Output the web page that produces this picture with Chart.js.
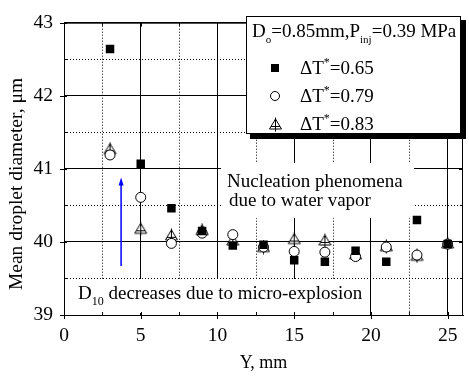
<!DOCTYPE html>
<html>
<head>
<meta charset="utf-8">
<script src="https://cdn.jsdelivr.net/npm/chart.js@4.4.0/dist/chart.umd.min.js"></script>
<style>body{margin:0;background:#fff}</style>
</head>
<body>
<canvas id="dropChart" width="469" height="376"></canvas>
<script>
// Axial positions, mm
const positions = [3, 5, 7, 9, 11, 13, 15, 17, 19, 21, 23, 25];
// Mean droplet diameter, um, one array per superheat degree
const d065 = [42.64, 41.07, 40.46, 40.15, 39.95, 39.96, 39.75, 39.73, 39.88, 39.73, 40.30, 39.97];
const d079 = [41.19, 40.61, 39.98, 40.12, 40.10, 39.93, 39.87, 39.86, 39.80, 39.93, 39.82, 39.97];
const d083 = [41.27, 40.18, 40.09, 40.16, 40.02, 39.93, 40.04, 40.02, 39.83, 39.94, 39.81, 39.98];
const seriesLabels = ["0.65", "0.79", "0.83"];

// Tick values
const xMajor = [0, 5, 10, 15, 20, 25];
const xMinor = [2.5, 7.5, 12.5, 17.5, 22.5];
const yMajor = [39, 40, 41, 42, 43];
const yMinor = [39.5, 40.5, 41.5, 42.5];

// blue arrow (data coords)
const arrowX = 3.72, arrowFrom = 39.67, arrowTo = 40.88;

const FONT = "Liberation Serif";

// triangle-with-cross marker
const triImg = document.createElement("canvas");
triImg.width = 15; triImg.height = 15;
(function () {
  const c = triImg.getContext("2d");
  c.fillStyle = "#fff";
  c.strokeStyle = "#000";
  c.lineWidth = 1;
  c.beginPath();
  c.moveTo(7.5, 2); c.lineTo(13.5, 12); c.lineTo(1.5, 12); c.closePath();
  c.fill(); c.stroke();
  c.beginPath();
  c.moveTo(7.5, 0.5); c.lineTo(7.5, 14.5);
  c.moveTo(3, 9.5); c.lineTo(12, 9.5);
  c.stroke();
})();

function pts(arr) {
  return positions.map((x, i) => ({ x: x, y: arr[i] }));
}

// text with sub/superscripts: runs = [text, size, dy]
function drawRuns(ctx, x, y, runs) {
  runs.forEach(r => {
    ctx.font = r[1] + "px '" + FONT + "'";
    ctx.fillText(r[0], x, y + r[2]);
    x += ctx.measureText(r[0]).width;
  });
}

const decor = {
  id: "decor",
  beforeDatasetsDraw(chart) {
    const ctx = chart.ctx;
    const xs = chart.scales.x, ys = chart.scales.y;
    const a = chart.chartArea;
    const px = v => Math.round(xs.getPixelForValue(v)) + 0.5;
    const py = v => Math.round(ys.getPixelForValue(v)) + 0.5;
    ctx.save();

    // minor dotted grid
    ctx.strokeStyle = "#000";
    ctx.lineWidth = 1;
    ctx.setLineDash([1, 2]);
    ctx.beginPath();
    xMinor.forEach(v => { ctx.moveTo(px(v), a.top); ctx.lineTo(px(v), a.bottom); });
    yMinor.forEach(v => { ctx.moveTo(a.left, py(v)); ctx.lineTo(a.right, py(v)); });
    ctx.stroke();
    ctx.setLineDash([]);

    // white boxes behind annotations
    ctx.fillStyle = "#fff";
    ctx.fillRect(221, 163, 193, 55);
    ctx.fillRect(a.left + 1, 279, 301, 34);

    // frame top/right
    ctx.beginPath();
    ctx.moveTo(a.left, a.top + 0.5); ctx.lineTo(a.right, a.top + 0.5);
    ctx.moveTo(a.right - 0.5, a.top); ctx.lineTo(a.right - 0.5, a.bottom);
    ctx.stroke();

    // tick marks
    ctx.beginPath();
    xMajor.forEach(v => {
      ctx.moveTo(px(v), a.bottom - 3); ctx.lineTo(px(v), a.bottom + 4);
      ctx.moveTo(px(v), a.top); ctx.lineTo(px(v), a.top + 4);
    });
    xMinor.forEach(v => {
      ctx.moveTo(px(v), a.bottom); ctx.lineTo(px(v), a.bottom - 3);
      ctx.moveTo(px(v), a.top); ctx.lineTo(px(v), a.top + 3);
    });
    yMajor.forEach(v => {
      ctx.moveTo(a.left - 4, py(v)); ctx.lineTo(a.left + 3, py(v));
      ctx.moveTo(a.right, py(v)); ctx.lineTo(a.right - 4, py(v));
    });
    yMinor.forEach(v => {
      ctx.moveTo(a.left, py(v)); ctx.lineTo(a.left + 3, py(v));
      ctx.moveTo(a.right, py(v)); ctx.lineTo(a.right - 3, py(v));
    });
    ctx.stroke();

    // legend box with shadow
    ctx.fillStyle = "#000";
    ctx.fillRect(250, 20, 216, 119);
    ctx.fillStyle = "#fff";
    ctx.fillRect(246, 16, 215, 118);
    ctx.strokeStyle = "#000";
    ctx.strokeRect(246.5, 16.5, 214, 117);

    // annotations
    ctx.fillStyle = "#000";
    ctx.textBaseline = "alphabetic";
    ctx.textAlign = "left";
    drawRuns(ctx, 252, 37, [["D", 19, 0], ["o", 11, 6], ["=0.85mm,P", 19, 0], ["inj", 11, 6], ["=0.39 MPa", 19, 0]]);
    const rowY = [68, 96, 124];
    seriesLabels.forEach((lab, i) => {
      const y = rowY[i];
      if (i === 0) {
        ctx.fillRect(271, y - 4, 8, 8);
      } else if (i === 1) {
        ctx.beginPath(); ctx.arc(275, y, 4.5, 0, Math.PI * 2); ctx.stroke();
      } else {
        ctx.drawImage(triImg, 268, y - 7);
      }
      drawRuns(ctx, 300, y + 6, [["\u0394T", 19, 0], ["*", 12, -8], ["=" + lab, 19, 0]]);
    });

    drawRuns(ctx, 227, 187, [["Nucleation phenomena", 19, 0]]);
    drawRuns(ctx, 229, 206, [["due to water vapor", 19, 0]]);
    drawRuns(ctx, 78, 299, [["D", 19, 0], ["10", 12, 6], [" decreases due to micro-explosion", 19, 0]]);

    // y axis title
    ctx.save();
    ctx.translate(17, 184);
    ctx.rotate(-Math.PI / 2);
    ctx.textAlign = "center";
    ctx.textBaseline = "middle";
    ctx.font = "19.5px '" + FONT + "'";
    ctx.fillText("Mean droplet diameter, \u03bcm", 0, 0);
    ctx.restore();

    // blue arrow
    const ax = xs.getPixelForValue(arrowX);
    const y0 = ys.getPixelForValue(arrowFrom), y1 = ys.getPixelForValue(arrowTo);
    ctx.strokeStyle = "#0000ff";
    ctx.fillStyle = "#0000ff";
    ctx.lineWidth = 1.5;
    ctx.beginPath(); ctx.moveTo(ax, y0); ctx.lineTo(ax, y1 + 6); ctx.stroke();
    ctx.beginPath(); ctx.moveTo(ax, y1); ctx.lineTo(ax - 2.5, y1 + 8); ctx.lineTo(ax + 2.5, y1 + 8); ctx.closePath(); ctx.fill();
    ctx.restore();
  }
};

const ctx = document.getElementById("dropChart").getContext("2d");
new Chart(ctx, {
  type: "scatter",
  data: {
    datasets: [
      {
        label: "\u0394T*=0.65",
        data: pts(d065),
        pointStyle: "rect",
        pointRadius: 6,
        backgroundColor: "#000",
        borderColor: "#000",
        borderWidth: 0
      },
      {
        label: "\u0394T*=0.79",
        data: pts(d079),
        pointStyle: "circle",
        pointRadius: 5,
        backgroundColor: "#fff",
        borderColor: "#000",
        borderWidth: 1
      },
      {
        label: "\u0394T*=0.83",
        data: pts(d083),
        pointStyle: triImg,
        backgroundColor: "#fff",
        borderColor: "#000"
      }
    ]
  },
  options: {
    responsive: false,
    animation: false,
    devicePixelRatio: 1,
    layout: { padding: { top: 14, right: 1, left: 0, bottom: 0 } },
    plugins: {
      legend: { display: false },
      tooltip: { enabled: false }
    },
    scales: {
      x: {
        type: "linear",
        min: 0,
        max: 26,
        afterBuildTicks: s => { s.ticks = xMajor.map(v => ({ value: v })); },
        afterFit: s => { s.height = 61; },
        grid: { color: "#000", lineWidth: 1, drawTicks: false },
        border: { color: "#000", width: 1 },
        ticks: { color: "#000", padding: 9, autoSkip: false, maxRotation: 0, font: { family: FONT, size: 19.5 } },
        title: { display: true, text: "Y, mm", color: "#000", font: { family: FONT, size: 18 }, padding: { top: 0, bottom: 2 } }
      },
      y: {
        min: 39,
        max: 43,
        afterBuildTicks: s => { s.ticks = yMajor.map(v => ({ value: v })); },
        afterFit: s => { s.width = 64; },
        grid: { color: "#000", lineWidth: 1, drawTicks: false },
        border: { color: "#000", width: 1 },
        ticks: { color: "#000", padding: 11, font: { family: FONT, size: 19.5 } },
        title: { display: false }
      }
    }
  },
  plugins: [decor]
});
</script>
</body>
</html>
